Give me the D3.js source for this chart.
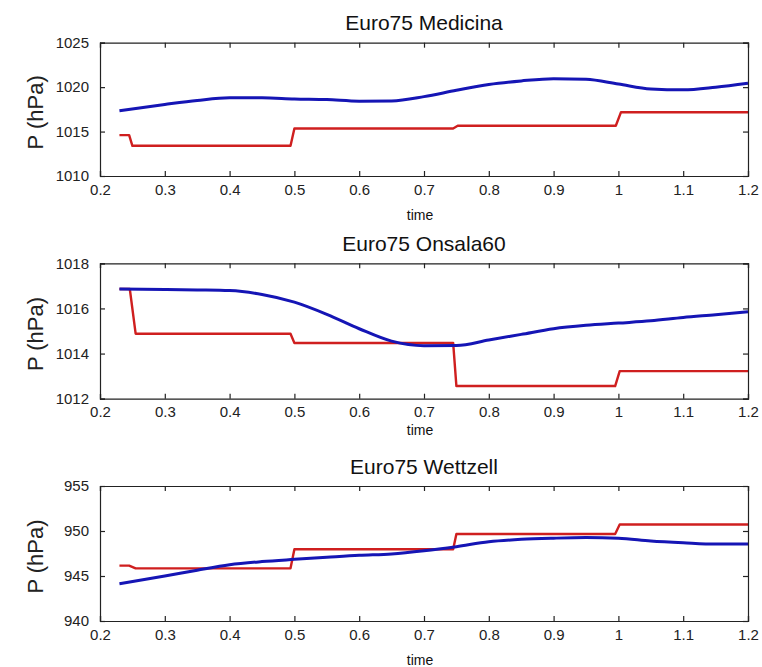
<!DOCTYPE html>
<html>
<head>
<meta charset="utf-8">
<script src="https://cdn.jsdelivr.net/npm/d3@7"></script>
<style>
  html, body { margin: 0; padding: 0; background: #fff; }
  svg { display: block; font-family: "Liberation Sans", Arial, Helvetica, sans-serif; }
</style>
</head>
<body>
<div id="chart"></div>
<script>
// ---------- data ----------
const stations = ["Euro75 Medicina", "Euro75 Onsala60", "Euro75 Wettzell"];
const xTicks = [0.2, 0.3, 0.4, 0.5, 0.6, 0.7, 0.8, 0.9, 1, 1.1, 1.2];
const yTicksMedicina = [1010, 1015, 1020, 1025];
const yTicksOnsala = [1012, 1014, 1016, 1018];
const yTicksWettzell = [940, 945, 950, 955];

// smooth (blue) series
const timeSmooth = [0.23, 0.3, 0.35, 0.4, 0.45, 0.5, 0.55, 0.6, 0.65, 0.7, 0.75, 0.8, 0.85, 0.9, 0.95, 1.0, 1.05, 1.1, 1.15, 1.2];
const medicinaBlue = [1017.35, 1018.05, 1018.5, 1018.8, 1018.8, 1018.67, 1018.6, 1018.42, 1018.45, 1018.93, 1019.65, 1020.3, 1020.7, 1020.95, 1020.88, 1020.35, 1019.8, 1019.7, 1020.0, 1020.45];
const onsalaBlue = [1016.86, 1016.84, 1016.82, 1016.79, 1016.62, 1016.28, 1015.74, 1015.1, 1014.55, 1014.35, 1014.36, 1014.6, 1014.85, 1015.1, 1015.25, 1015.35, 1015.45, 1015.6, 1015.72, 1015.85];
const wettzellBlue = [944.15, 945.0, 945.65, 946.25, 946.6, 946.85, 947.08, 947.3, 947.45, 947.8, 948.26, 948.8, 949.07, 949.2, 949.27, 949.2, 948.9, 948.7, 948.55, 948.55];

// step (red) series
const medicinaRedTime = [0.23, 0.245, 0.25, 0.494, 0.5, 0.745, 0.752, 0.996, 1.004, 1.2];
const medicinaRed = [1014.6, 1014.6, 1013.4, 1013.4, 1015.35, 1015.35, 1015.65, 1015.65, 1017.18, 1017.18];
const onsalaRedTime = [0.23, 0.246, 0.255, 0.494, 0.5, 0.745, 0.75, 0.995, 1.002, 1.2];
const onsalaRed = [1016.86, 1016.86, 1014.88, 1014.88, 1014.47, 1014.47, 1012.56, 1012.56, 1013.22, 1013.22];
const wettzellRedTime = [0.23, 0.245, 0.255, 0.494, 0.5, 0.745, 0.75, 0.995, 1.002, 1.2];
const wettzellRed = [946.15, 946.15, 945.85, 945.85, 947.98, 947.98, 949.67, 949.67, 950.72, 950.72];

// ---------- layout ----------
const W = 762, H = 667;
const panels = [
  { title: stations[0], yDomain: [1010, 1025], yTicks: yTicksMedicina, top: 42.7, bottom: 176, blue: medicinaBlue, redT: medicinaRedTime, red: medicinaRed, titleY: 29.5, timeY: 219.5 },
  { title: stations[1], yDomain: [1012, 1018], yTicks: yTicksOnsala, top: 263.3, bottom: 398.7, blue: onsalaBlue, redT: onsalaRedTime, red: onsalaRed, titleY: 251, timeY: 435 },
  { title: stations[2], yDomain: [940, 955], yTicks: yTicksWettzell, top: 486, bottom: 621, blue: wettzellBlue, redT: wettzellRedTime, red: wettzellRed, titleY: 474, timeY: 664.5 }
];
const left = 100, right = 748;
const blueColor = "#1515b5", redColor = "#cf1f1f";
const tickLen = 5;

const svg = d3.select("#chart").append("svg").attr("width", W).attr("height", H);
svg.append("rect").attr("width", W).attr("height", H).attr("fill", "#fff");

const x = d3.scaleLinear().domain([0.2, 1.2]).range([left, right]);
const fmtX = d => (d === 1 ? "1" : d3.format("~g")(d));

panels.forEach(p => {
  const y = d3.scaleLinear().domain(p.yDomain).range([p.bottom, p.top]);
  const g = svg.append("g");

  // lines
  const lineBlue = d3.line().x((d, i) => x(timeSmooth[i])).y(d => y(d)).curve(d3.curveMonotoneX);
  const lineRed = d3.line().x((d, i) => x(p.redT[i])).y(d => y(d));

  g.append("path").datum(p.red).attr("d", lineRed)
    .attr("fill", "none").attr("stroke", redColor).attr("stroke-width", 2.4).attr("stroke-linejoin", "round");
  g.append("path").datum(p.blue).attr("d", lineBlue)
    .attr("fill", "none").attr("stroke", blueColor).attr("stroke-width", 3).attr("stroke-linejoin", "round");

  // axes (ticks inward)
  const axB = d3.axisBottom(x).tickValues(xTicks).tickSize(-tickLen).tickPadding(8).tickFormat(fmtX);
  const axT = d3.axisTop(x).tickValues(xTicks).tickSize(-tickLen).tickFormat("");
  const axL = d3.axisLeft(y).tickValues(p.yTicks).tickSize(-tickLen).tickPadding(11).tickFormat(d3.format("d"));
  const axR = d3.axisRight(y).tickValues(p.yTicks).tickSize(-tickLen).tickFormat("");

  const gb = g.append("g").attr("transform", `translate(0,${p.bottom})`).call(axB);
  const gt = g.append("g").attr("transform", `translate(0,${p.top})`).call(axT);
  const gl = g.append("g").attr("transform", `translate(${left},0)`).call(axL);
  const gr = g.append("g").attr("transform", `translate(${right},0)`).call(axR);
  [gb, gt, gl, gr].forEach(a => {
    a.select(".domain").attr("stroke", "#222").attr("stroke-width", 1.2);
    a.selectAll(".tick line").attr("stroke", "#222").attr("stroke-width", 1.2);
    a.selectAll(".tick text").attr("fill", "#222").style("font-size", "15px")
      .style("font-family", "'Liberation Sans', Arial, sans-serif");
  });

  // title
  svg.append("text").attr("x", (left + right) / 2).attr("y", p.titleY)
    .attr("text-anchor", "middle").attr("fill", "#111").style("font-size", "21px").text(p.title);
  // x label
  svg.append("text").attr("x", 420).attr("y", p.timeY)
    .attr("text-anchor", "middle").attr("fill", "#111").style("font-size", "14px").text("time");
  // y label
  const cy = (p.top + p.bottom) / 2 + 3;
  svg.append("text").attr("transform", `translate(43,${cy}) rotate(-90)`)
    .attr("text-anchor", "middle").attr("fill", "#222").style("font-size", "22px").text("P (hPa)");
});
</script>
</body>
</html>
